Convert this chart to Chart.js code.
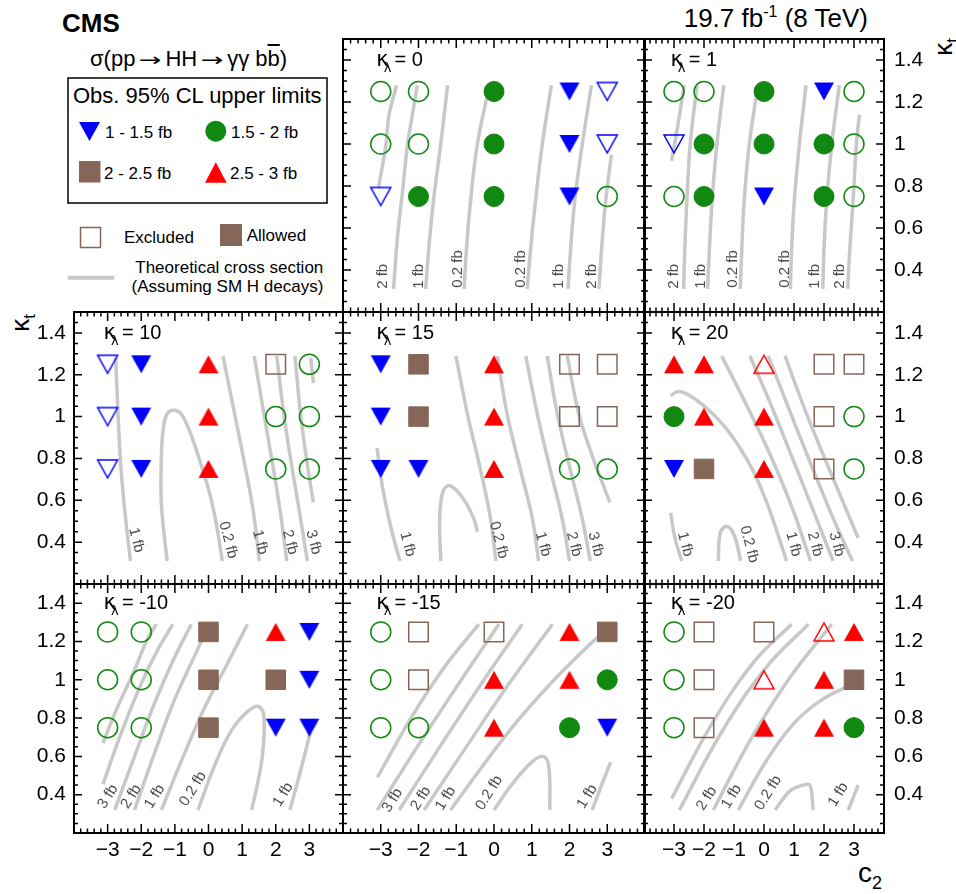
<!DOCTYPE html>
<html>
<head>
<meta charset="utf-8">
<script src="https://cdn.jsdelivr.net/npm/chart.js@4.4.1/dist/chart.umd.min.js"></script>
<style>
  html, body { margin: 0; padding: 0; background: #fff; }
  body { width: 956px; height: 894px; position: relative; overflow: hidden;
         font-family: "Liberation Sans", Arial, Helvetica, sans-serif; color: #000; }
  .abs { position: absolute; white-space: nowrap; }
  canvas { position: absolute; }
  .ax { font-size: 26px; line-height: 26px; }
  .ax sub { font-size: 17px; vertical-align: -6px; line-height: 0; }
  .arr { display: inline-block; width: 30px; text-align: center; transform: scaleX(1.5);
         font-family: "DejaVu Sans", sans-serif; font-size: 18px; }
</style>
</head>
<body>
<svg class="abs" style="left:0;top:0" width="340" height="310" font-family="Liberation Sans, Arial, Helvetica, sans-serif">
  <text x="62" y="32" font-size="26" font-weight="bold">CMS</text>
  <rect x="68" y="78" width="259" height="125" fill="none" stroke="#000" stroke-width="1.5"/>
  <text x="73" y="103" font-size="22">Obs. 95% CL upper limits</text>
  <polygon points="79,122 100,122 89.5,141" fill="#0000ff"/>
  <text x="105" y="137.5" font-size="17">1 - 1.5 fb</text>
  <circle cx="215.8" cy="131.2" r="10.5" fill="#118811"/>
  <text x="231" y="137.5" font-size="17">1.5 - 2 fb</text>
  <rect x="79" y="161" width="21.5" height="21.5" fill="#866658"/>
  <text x="104" y="179" font-size="17">2 - 2.5 fb</text>
  <polygon points="205,182.7 226.7,182.7 215.8,162.3" fill="#ff0000"/>
  <text x="230" y="179" font-size="17">2.5 - 3 fb</text>
  <rect x="80.5" y="227.5" width="20" height="20" fill="none" stroke="#866658" stroke-width="1.5"/>
  <text x="124" y="242.7" font-size="17">Excluded</text>
  <rect x="220" y="224" width="22" height="22" fill="#866658"/>
  <text x="246.7" y="240.7" font-size="17">Allowed</text>
  <line x1="67.7" y1="277.8" x2="114.3" y2="277.8" stroke="#c8c8c8" stroke-width="4"/>
  <text x="323.3" y="273" font-size="17" text-anchor="end">Theoretical cross section</text>
  <text x="323.3" y="292.4" font-size="17" text-anchor="end">(Assuming SM H decays)</text>
</svg>
<div class="abs" style="left:90px;top:48px;font-size:22px;line-height:22px">σ(pp<span class="arr">→</span>HH<span class="arr">→</span>γγ b<span style="text-decoration:overline">b</span>)</div>
<div class="abs" style="right:88px;top:5px;font-size:26px;line-height:26px">19.7 fb<sup style="font-size:16px;vertical-align:10px;line-height:0">-1</sup> (8 TeV)</div>
<div class="abs ax" style="left:20px;top:323px;transform:translate(-50%,-50%) rotate(-90deg)">κ<sub>t</sub></div>
<div class="abs ax" style="left:943px;top:47px;transform:translate(-50%,-50%) rotate(-90deg)">κ<sub>t</sub></div>
<div class="abs" style="left:858px;top:859px;font-size:28px;line-height:28px">c<sub style="font-size:18px;vertical-align:-7px;line-height:0">2</sub></div>

<script>
// grid of tested points
const xGrid = [-3, -2, 0, 2, 3];
const yGrid = [1.25, 1.0, 0.75];

// observed limit class per point, rows kt = 1.25, 1.0, 0.75
// B 1-1.5 fb, G 1.5-2 fb, S 2-2.5 fb, R 2.5-3 fb; lower case = excluded
const marks_k0 = ['ggGBb', 'ggGBb', 'bGGBg'];
const marks_k1 = ['ggGBg', 'bGGGg', 'gGBGg'];
const marks_k10 = ['bBRsg', 'bBRgg', 'bBRgg'];
const marks_k15 = ['BSRss', 'BSRss', 'BBRgg'];
const marks_k20 = ['RRrss', 'GRRsg', 'BSRsg'];
const marks_km10 = ['ggSRB', 'ggSSB', 'ggSBB'];
const marks_km15 = ['gssRS', 'gsRRG', 'ggRGB'];
const marks_km20 = ['gssrR', 'gsrRS', 'gsRRG'];

// theory cross-section contours, [c2, kt] points
const curves_k0 = [
  [[-2.58, 1.28], [-2.79, 1.13], [-2.86, 1.0], [-3.06, 0.79]],
  [[-2.03, 1.28], [-2.20, 1.10], [-2.29, 1.0], [-2.42, 0.78], [-2.56, 0.55], [-2.66, 0.31]],
  [[-1.23, 1.28], [-1.41, 1.0], [-1.59, 0.75], [-1.72, 0.52], [-1.81, 0.31]],
  [[-0.12, 1.28], [-0.44, 1.0], [-0.62, 0.73], [-0.73, 0.5], [-0.79, 0.31]],
  [[1.52, 1.28], [1.28, 1.0], [1.10, 0.73], [0.97, 0.5], [0.88, 0.31]],
  [[2.58, 1.28], [2.34, 1.0], [2.14, 0.73], [2.03, 0.5], [1.96, 0.31]],
  [[3.11, 0.95], [2.96, 0.73], [2.85, 0.5], [2.78, 0.31]]
];
const curves_k1 = [
  [[-2.66, 1.28], [-2.86, 1.1], [-3.08, 0.92]],
  [[-2.23, 1.28], [-2.46, 1.0], [-2.57, 0.73], [-2.64, 0.5], [-2.68, 0.31]],
  [[-1.34, 1.28], [-1.57, 1.0], [-1.73, 0.73], [-1.82, 0.5], [-1.88, 0.31]],
  [[-0.2, 1.28], [-0.49, 1.0], [-0.66, 0.73], [-0.74, 0.5], [-0.79, 0.31]],
  [[1.4, 1.28], [1.18, 1.0], [1.01, 0.73], [0.92, 0.5], [0.88, 0.31]],
  [[2.51, 1.28], [2.26, 1.0], [2.09, 0.73], [2.0, 0.5], [1.96, 0.31]],
  [[3.18, 1.14], [3.08, 1.0], [2.97, 0.73], [2.86, 0.5], [2.79, 0.31]]
];
const curves_k10 = [
  [[-2.76, 1.28], [-2.69, 1.01], [-2.61, 0.77], [-2.49, 0.55], [-2.32, 0.31]],
  [[-1.23, 0.31], [-1.40, 0.58], [-1.40, 0.82], [-1.33, 0.96], [-1.20, 1.02], [-1.0, 1.03], [-0.8, 1.01],
   [-0.56, 0.93], [-0.26, 0.79], [0.04, 0.63], [0.24, 0.48], [0.41, 0.31]],
  [[0.43, 1.29], [0.78, 1.01], [1.08, 0.77], [1.33, 0.55], [1.51, 0.31]],
  [[1.36, 1.29], [1.65, 1.01], [1.91, 0.77], [2.13, 0.55], [2.33, 0.31]],
  [[2.03, 1.29], [2.24, 1.01], [2.47, 0.77], [2.70, 0.55], [2.94, 0.31]],
  [[2.57, 1.29], [2.74, 1.01], [2.94, 0.77], [3.12, 0.59]],
  [[3.04, 1.28], [3.12, 1.16]]
];
const curves_k15 = [
  [[-3.10, 0.85], [-2.95, 0.66], [-2.73, 0.47], [-2.49, 0.31]],
  [[-1.41, 0.31], [-1.44, 0.51], [-1.37, 0.63], [-1.22, 0.67], [-1.01, 0.65], [-0.75, 0.59], [-0.53, 0.51], [-0.44, 0.45]],
  [[-1.01, 1.29], [-0.70, 1.01], [-0.35, 0.74], [-0.09, 0.51], [0.05, 0.31]],
  [[0.09, 1.29], [0.35, 1.01], [0.71, 0.74], [1.02, 0.51], [1.18, 0.31]],
  [[0.84, 1.29], [1.15, 1.01], [1.50, 0.74], [1.81, 0.51], [2.0, 0.31]],
  [[1.41, 1.29], [1.68, 1.01], [2.03, 0.74], [2.34, 0.51], [2.55, 0.31]],
  [[1.94, 1.29], [2.25, 1.01], [2.65, 0.79], [3.07, 0.59]]
];
const curves_k20 = [
  [[-3.11, 0.54], [-2.97, 0.42], [-2.74, 0.31]],
  [[-1.52, 0.31], [-1.49, 0.42], [-1.41, 0.46], [-1.22, 0.475], [-1.05, 0.45], [-0.9, 0.39], [-0.78, 0.31]],
  [[-3.11, 1.10], [-2.86, 1.12], [-2.47, 1.10], [-1.91, 1.04], [-1.36, 0.96], [-0.8, 0.85], [-0.36, 0.74],
   [0.09, 0.59], [0.48, 0.43], [0.75, 0.31]],
  [[-1.41, 1.29], [-0.6, 1.06], [0.2, 0.82], [0.95, 0.56], [1.55, 0.31]],
  [[-0.47, 1.29], [0.25, 1.05], [0.95, 0.8], [1.7, 0.53], [2.3, 0.31]],
  [[0.14, 1.29], [0.85, 1.03], [1.6, 0.76], [2.35, 0.5], [2.95, 0.31]],
  [[0.7, 1.29], [1.4, 1.02], [2.2, 0.74], [3.14, 0.42]]
];
const curves_km10 = [
  [[-3.14, 0.67], [-2.7, 0.86], [-2.2, 1.05], [-1.85, 1.2], [-1.55, 1.29]],
  [[-3.14, 0.455], [-2.6, 0.72], [-2.0, 0.98], [-1.5, 1.16], [-1.06, 1.29]],
  [[-2.79, 0.32], [-2.2, 0.6], [-1.6, 0.88], [-1.0, 1.12], [-0.51, 1.29]],
  [[-2.20, 0.32], [-1.6, 0.62], [-1.0, 0.9], [-0.4, 1.13], [-0.06, 1.26]],
  [[-1.40, 0.32], [-0.75, 0.6], [-0.1, 0.86], [0.55, 1.08], [1.16, 1.29]],
  [[-0.31, 0.32], [0.2, 0.56], [0.7, 0.74], [1.2, 0.84], [1.5, 0.86], [1.65, 0.8], [1.6, 0.6], [1.45, 0.45], [1.28, 0.32]],
  [[2.42, 0.32], [2.7, 0.5], [3.02, 0.72]]
];
const curves_km15 = [
  [[-3.09, 0.49], [-2.2, 0.8], [-1.3, 1.07], [-0.40, 1.29]],
  [[-3.09, 0.32], [-2.0, 0.66], [-0.9, 0.99], [0.13, 1.29]],
  [[-2.51, 0.32], [-1.4, 0.66], [-0.3, 0.99], [0.75, 1.29]],
  [[-1.85, 0.32], [-0.8, 0.63], [0.4, 0.98], [1.55, 1.29]],
  [[-1.15, 0.32], [-0.3, 0.55], [0.6, 0.78], [1.5, 0.98], [2.2, 1.12], [2.78, 1.23]],
  [[0.0, 0.32], [0.5, 0.46], [1.0, 0.57], [1.3, 0.6], [1.45, 0.55], [1.48, 0.32]],
  [[2.60, 0.32], [2.85, 0.45], [3.09, 0.57]]
];
const curves_km20 = [
  [[-3.08, 0.38], [-1.7, 0.78], [-0.3, 1.1], [0.92, 1.29]],
  [[-2.82, 0.32], [-1.4, 0.73], [0.1, 1.07], [1.48, 1.29]],
  [[-1.69, 0.32], [-0.4, 0.7], [0.9, 1.02], [2.26, 1.29]],
  [[-0.86, 0.32], [0.09, 0.58], [0.98, 0.77], [1.87, 0.89], [2.7, 0.96]],
  [[0.37, 0.32], [0.87, 0.42], [1.31, 0.45], [1.53, 0.45], [1.64, 0.32]],
  [[2.81, 0.32], [3.14, 0.45]]
];

// contour labels: [c2, kt, text]
const labels_k0 = [[-2.95, 0.37, '2 fb'], [-2.0, 0.37, '1 fb'], [-0.97, 0.405, '0.2 fb'],
                   [0.71, 0.405, '0.2 fb'], [1.72, 0.37, '1 fb'], [2.6, 0.37, '2 fb']];
const labels_k1 = [[-2.99, 0.37, '2 fb'], [-2.1, 0.37, '1 fb'], [-1.04, 0.405, '0.2 fb'],
                   [0.68, 0.405, '0.2 fb'], [1.68, 0.37, '1 fb'], [2.53, 0.37, '2 fb']];
const labels_k10 = [[-2.15, 0.41, '1 fb'], [0.58, 0.41, '0.2 fb'], [1.53, 0.40, '1 fb'],
                    [2.42, 0.40, '2 fb'], [3.12, 0.40, '3 fb']];
const labels_k15 = [[-2.29, 0.39, '1 fb'], [0.12, 0.41, '0.2 fb'], [1.30, 0.39, '1 fb'],
                    [2.12, 0.39, '2 fb'], [2.69, 0.39, '3 fb']];
const labels_k20 = [[-2.63, 0.39, '1 fb'], [-0.5, 0.39, '0.2 fb'], [0.98, 0.39, '1 fb'],
                    [1.70, 0.39, '2 fb'], [2.42, 0.39, '3 fb']];
const labels_km10 = [[-2.99, 0.39, '3 fb'], [-2.30, 0.39, '2 fb'], [-1.60, 0.39, '1 fb'],
                     [-0.46, 0.43, '0.2 fb'], [2.22, 0.40, '1 fb']];
const labels_km15 = [[-2.69, 0.37, '3 fb'], [-1.94, 0.38, '2 fb'], [-1.28, 0.38, '1 fb'],
                     [-0.13, 0.41, '0.2 fb'], [2.47, 0.39, '1 fb']];
const labels_km20 = [[-1.91, 0.38, '2 fb'], [-1.08, 0.39, '1 fb'], [0.14, 0.41, '0.2 fb'], [2.48, 0.40, '1 fb']];

// axes
const xTickVals = [-3, -2, -1, 0, 1, 2, 3];
const xTickText = ['\u22123', '\u22122', '\u22121', '0', '1', '2', '3'];
const yTickVals = [0.4, 0.6, 0.8, 1.0, 1.2, 1.4];
const yTickText = ['0.4', '0.6', '0.8', '1', '1.2', '1.4'];

// layout (page pixels)
const colEdges = [[74, 343], [343, 645], [644, 884]];
const rowEdges = [[39, 312], [312, 584], [584, 833]];
const labelAngles = [-90, 75, -58];
const titlePos = [-3.12, 1.37];
const FONT = '"Liberation Sans", Arial, Helvetica, sans-serif';

const panels = [
  {kl: '0', col: 1, row: 0, marks: marks_k0, curves: curves_k0, labels: labels_k0},
  {kl: '1', col: 2, row: 0, marks: marks_k1, curves: curves_k1, labels: labels_k1},
  {kl: '10', col: 0, row: 1, marks: marks_k10, curves: curves_k10, labels: labels_k10},
  {kl: '15', col: 1, row: 1, marks: marks_k15, curves: curves_k15, labels: labels_k15},
  {kl: '20', col: 2, row: 1, marks: marks_k20, curves: curves_k20, labels: labels_k20},
  {kl: '-10', col: 0, row: 2, marks: marks_km10, curves: curves_km10, labels: labels_km10},
  {kl: '-15', col: 1, row: 2, marks: marks_km15, curves: curves_km15, labels: labels_km15},
  {kl: '-20', col: 2, row: 2, marks: marks_km20, curves: curves_km20, labels: labels_km20}
];

// triangles drawn on small canvases so they sit centred on their point like ROOT markers
function triangleImage(color, filled, down) {
  const tw = 20, th = 18;
  const c = document.createElement('canvas');
  c.width = tw + 4;
  c.height = th + 4;
  const g = c.getContext('2d');
  g.beginPath();
  if (down) {
    g.moveTo(2, 2); g.lineTo(2 + tw, 2); g.lineTo(2 + tw / 2, 2 + th);
  } else {
    g.moveTo(2, 2 + th); g.lineTo(2 + tw, 2 + th); g.lineTo(2 + tw / 2, 2);
  }
  g.closePath();
  if (filled) {
    g.fillStyle = color;
    g.fill();
  } else {
    g.strokeStyle = color;
    g.lineWidth = 1.5;
    g.stroke();
  }
  return c;
}

const markerStyle = {
  B: {color: '#0000ff', shape: 'down', r: 11},
  G: {color: '#118811', shape: 'circle', r: 10},
  S: {color: '#866658', shape: 'rect', r: 13.8},
  R: {color: '#ff0000', shape: 'up', r: 11}
};

function markerSets(marks) {
  const sets = [];
  'BGSRbgsr'.split('').forEach(function (code) {
    const pts = [];
    marks.forEach(function (row, r) {
      row.split('').forEach(function (c, i) {
        if (c === code) pts.push({x: xGrid[i], y: yGrid[r]});
      });
    });
    if (!pts.length) return;
    const st = markerStyle[code.toUpperCase()];
    const open = code !== code.toUpperCase();
    let style = st.shape;
    if (st.shape === 'down' || st.shape === 'up') {
      style = triangleImage(st.color, !open, st.shape === 'down');
    }
    sets.push({
      data: pts,
      showLine: false,
      pointStyle: style,
      pointRadius: st.r,
      pointBackgroundColor: open ? 'rgba(0,0,0,0)' : st.color,
      pointBorderColor: st.color,
      pointBorderWidth: open ? 1.5 : 1,
      order: 0
    });
  });
  return sets;
}

function curveSets(curves) {
  return curves.map(function (c) {
    return {
      data: c.map(function (p) { return {x: p[0], y: p[1]}; }),
      showLine: true,
      pointRadius: 0,
      borderColor: '#c8c8c8',
      borderWidth: 3.5,
      tension: 0.4,
      fill: false,
      order: 1
    };
  });
}

function panelDecor(p) {
  return {
    id: 'panelDecor',
    afterDatasetsDraw: function (chart) {
      const ctx = chart.ctx, a = chart.chartArea;
      const x = chart.scales.x, y = chart.scales.y;
      ctx.save();

      // contour labels
      ctx.fillStyle = '#4d4d4d';
      ctx.font = '15px ' + FONT;
      ctx.textAlign = 'center';
      ctx.textBaseline = 'middle';
      p.labels.forEach(function (l) {
        ctx.save();
        ctx.translate(x.getPixelForValue(l[0]), y.getPixelForValue(l[1]));
        ctx.rotate(labelAngles[p.row] * Math.PI / 180);
        ctx.fillText(l[2], 0, 0);
        ctx.restore();
      });

      // panel title  kappa_lambda = N
      ctx.fillStyle = '#000';
      ctx.textAlign = 'left';
      ctx.textBaseline = 'alphabetic';
      const tx = x.getPixelForValue(titlePos[0]), ty = y.getPixelForValue(titlePos[1]);
      ctx.font = '21px "DejaVu Sans", sans-serif';
      ctx.fillText('κ', tx, ty);
      const wk = ctx.measureText('κ').width;
      ctx.font = '13px "DejaVu Sans", sans-serif';
      ctx.fillText('λ', tx + wk * 0.6, ty + 6);
      ctx.font = '20px ' + FONT;
      ctx.fillText('= ' + p.kl, tx + wk + 6, ty);

      // frame
      ctx.strokeStyle = '#000';
      ctx.lineWidth = 2;
      ctx.strokeRect(a.left, a.top, a.right - a.left, a.bottom - a.top);

      // inward ticks on all four sides
      ctx.lineWidth = 1.5;
      ctx.beginPath();
      for (let i = -20; i <= 20; i++) {
        const px = x.getPixelForValue(i / 5);
        if (px <= a.left + 1 || px >= a.right - 1) continue;
        const len = i % 5 === 0 ? 9 : 4.5;
        ctx.moveTo(px, a.bottom); ctx.lineTo(px, a.bottom - len);
        ctx.moveTo(px, a.top); ctx.lineTo(px, a.top + len);
      }
      for (let i = 4; i <= 30; i++) {
        const py = y.getPixelForValue(i * 0.05);
        if (py <= a.top + 1 || py >= a.bottom - 1) continue;
        const len = i % 4 === 0 ? 8 : 4;
        ctx.moveTo(a.left, py); ctx.lineTo(a.left + len, py);
        ctx.moveTo(a.right, py); ctx.lineTo(a.right - len, py);
      }
      ctx.stroke();

      // tick labels on the outer edges
      ctx.font = '21px ' + FONT;
      ctx.fillStyle = '#000';
      if (p.col === 0 || p.col === 2) {
        ctx.textBaseline = 'middle';
        ctx.textAlign = p.col === 0 ? 'right' : 'left';
        const lx = p.col === 0 ? a.left - 8 : a.right + 10;
        yTickVals.forEach(function (v, i) {
          ctx.fillText(yTickText[i], lx, y.getPixelForValue(v));
        });
      }
      if (p.row === 2) {
        ctx.textBaseline = 'alphabetic';
        ctx.textAlign = 'center';
        xTickVals.forEach(function (v, i) {
          ctx.fillText(xTickText[i], x.getPixelForValue(v), a.bottom + 23);
        });
      }
      ctx.restore();
    }
  };
}

panels.forEach(function (p) {
  const fx = colEdges[p.col], fy = rowEdges[p.row];
  const pad = {
    left: p.col === 0 ? 70 : 4,
    right: p.col === 2 ? 70 : 4,
    top: 4,
    bottom: p.row === 2 ? 40 : 4
  };
  const w = fx[1] - fx[0] + pad.left + pad.right;
  const h = fy[1] - fy[0] + pad.top + pad.bottom;
  const canvas = document.createElement('canvas');
  canvas.width = w;
  canvas.height = h;
  canvas.style.left = (fx[0] - pad.left) + 'px';
  canvas.style.top = (fy[0] - pad.top) + 'px';
  canvas.style.width = w + 'px';
  canvas.style.height = h + 'px';
  document.body.appendChild(canvas);

  new Chart(canvas, {
    type: 'scatter',
    data: { datasets: markerSets(p.marks).concat(curveSets(p.curves)) },
    options: {
      responsive: false,
      maintainAspectRatio: false,
      animation: false,
      events: [],
      layout: { autoPadding: false, padding: pad },
      plugins: { legend: { display: false }, tooltip: { enabled: false } },
      scales: {
        x: { type: 'linear', min: -4, max: 4, display: false },
        y: { type: 'linear', min: 0.2, max: 1.5, display: false }
      }
    },
    plugins: [panelDecor(p)]
  });
});
</script>
</body>
</html>
